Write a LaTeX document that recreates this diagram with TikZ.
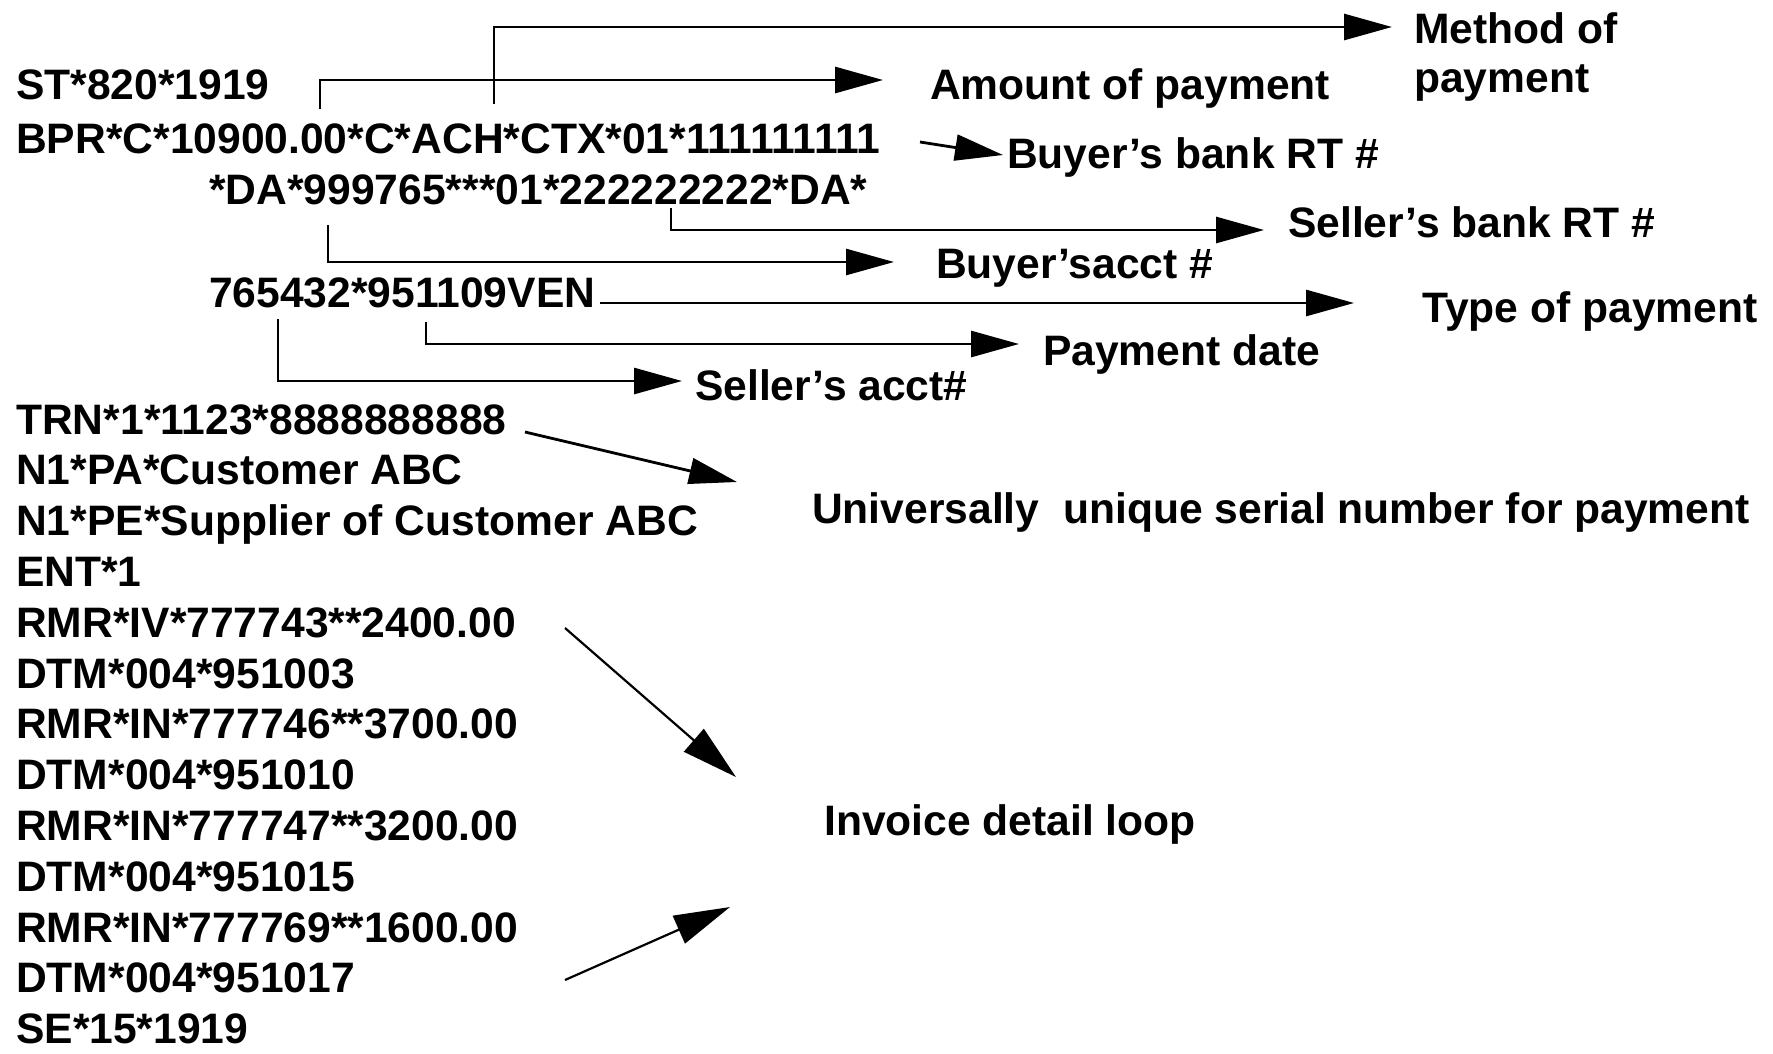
\documentclass[tikz,border=0pt]{standalone}
\usepackage{fontspec}
\setmainfont{Liberation Sans}
\usetikzlibrary{arrows.meta}
\begin{document}
\begin{tikzpicture}[x=1pt,y=-1pt,
  txt/.style={anchor=base west, inner sep=0pt, font=\bfseries\fontsize{42.6}{50}\selectfont},
  conn/.style={line width=2.8pt, -{Triangle[length=48pt,width=26pt]}},
  diag/.style={line width=2.2pt, -{Triangle[length=56pt,width=30pt]}}]
\useasboundingbox (0,0) rectangle (1773,1053);
% segment text
\node[txt] (st)   at (16,99.5) {ST*820*1919};
\node[txt] (bpr)  at (16,153) {BPR*C*10900.00*C*ACH*CTX*01*111111111};
\node[txt] (da)   at (209,204) {*DA*999765***01*222222222*DA*};
\node[txt] (ven)  at (209,307) {765432*951109VEN};
\node[txt] (trn)  at (16,434) {TRN*1*1123*8888888888};
\node[txt] (npa)  at (16,484.8) {N1*PA*Customer ABC};
\node[txt] (npe)  at (16,535.6) {N1*PE*Supplier of Customer ABC};
\node[txt] (ent)  at (16,586.4) {ENT*1};
\node[txt] (rmra) at (16,637.2) {RMR*IV*777743**2400.00};
\node[txt] (dtma) at (16,688) {DTM*004*951003};
\node[txt] (rmrb) at (16,738.8) {RMR*IN*777746**3700.00};
\node[txt] (dtmb) at (16,789.6) {DTM*004*951010};
\node[txt] (rmrc) at (16,840.4) {RMR*IN*777747**3200.00};
\node[txt] (dtmc) at (16,891.2) {DTM*004*951015};
\node[txt] (rmrd) at (16,942) {RMR*IN*777769**1600.00};
\node[txt] (dtmd) at (16,992.8) {DTM*004*951017};
\node[txt] (se)   at (16,1043.6) {SE*15*1919};
% labels
\node[txt] (meth1) at (1414,43) {Method of};
\node[txt] (meth2) at (1414,92) {payment};
\node[txt] (amt)   at (930,99) {Amount of payment};
\node[txt] (bbank) at (1007,168) {Buyer’s bank RT \#};
\node[txt] (sbank) at (1288,237) {Seller’s bank RT \#};
\node[txt] (bacct) at (936,278) {Buyer’sacct \#};
\node[txt] (tpay)  at (1422,322) {Type of payment};
\node[txt] (pdate) at (1043,365) {Payment date};
\node[txt] (sacct) at (695,400) {Seller’s acct\#};
\node[txt] (uuid)  at (812,523) {Universally~~unique serial number for payment};
\node[txt] (inv)   at (824,835) {Invoice detail loop};
% connector end points
\coordinate (m0) at (494,104);  \coordinate (m1) at (1392,27);
\coordinate (a0) at (320,109);  \coordinate (a1) at (883,80);
\coordinate (b0) at (920,142);  \coordinate (b1) at (1003,155);
\coordinate (s0) at (671,208);  \coordinate (s1) at (1264,230);
\coordinate (c0) at (328,225);  \coordinate (c1) at (894,262);
\coordinate (t1) at (1354,303);
\coordinate (p0) at (426,322);  \coordinate (p1) at (1019,344);
\coordinate (q0) at (278,319);  \coordinate (q1) at (682,381);
\coordinate (u0) at (525,432);  \coordinate (u1) at (737,482);
\coordinate (i0) at (565,628);  \coordinate (i1) at (736,777);
\coordinate (j0) at (565,980);  \coordinate (j1) at (730,907);
% connectors
\draw[conn] (m0) |- (m1);
\draw[conn] (a0) |- (a1);
\draw[conn] (b0) -- (b1);
\draw[conn] (s0) |- (s1);
\draw[conn] (c0) |- (c1);
\draw[conn] (ven.east |- t1) ++(4,0) -- (t1);
\draw[conn] (p0) |- (p1);
\draw[conn] (q0) |- (q1);
\draw[conn] (u0) -- (u1);
\draw[diag] (i0) -- (i1);
\draw[diag] (j0) -- (j1);
\end{tikzpicture}
\end{document}
